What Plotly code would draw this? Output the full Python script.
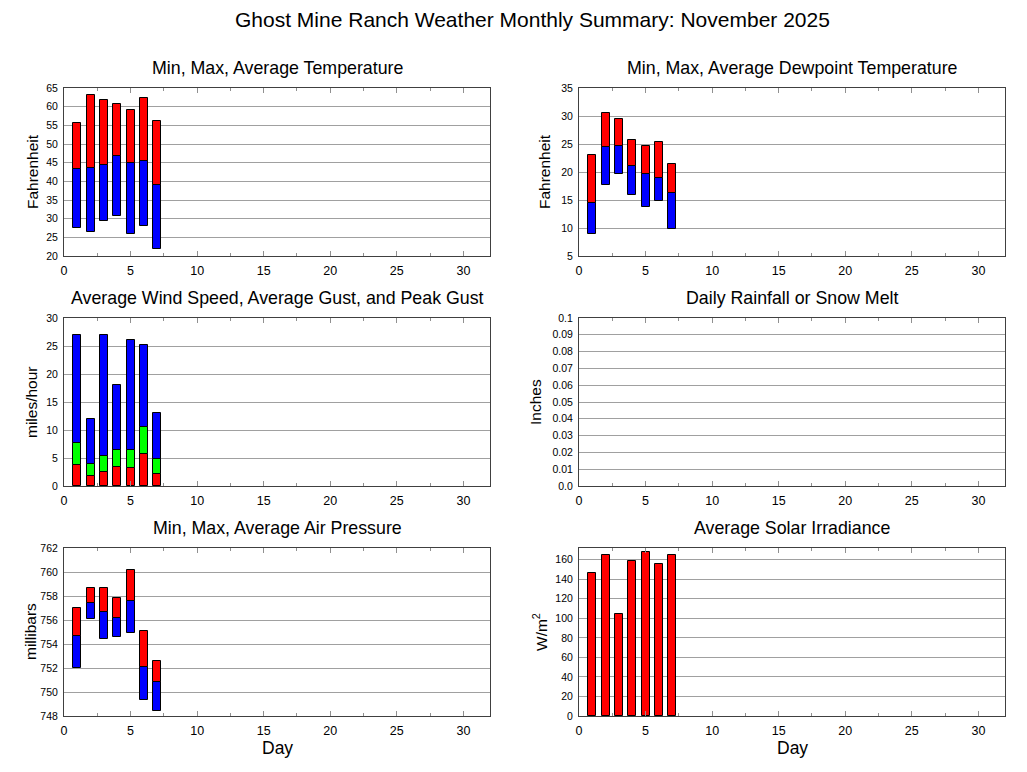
import plotly.graph_objects as go

days = [1, 2, 3, 4, 5, 6, 7]

temp_max = [55.5, 63.0, 61.7, 60.7, 59.0, 62.2, 56.2]
temp_avg = [43.2, 43.6, 44.3, 46.7, 45.0, 45.4, 39.1]
temp_min = [27.4, 26.5, 29.3, 30.7, 25.9, 28.0, 21.8]

dew_max = [23.0, 30.5, 29.4, 25.8, 24.6, 25.3, 21.4]
dew_avg = [14.4, 24.5, 24.7, 21.1, 19.6, 19.0, 16.2]
dew_min = [8.9, 17.7, 19.6, 15.9, 13.8, 14.8, 9.8]

wind_avg = [3.7, 1.7, 2.5, 3.4, 3.2, 5.7, 2.1]
gust_avg = [7.7, 4.0, 5.4, 6.5, 6.4, 10.6, 4.9]
gust_peak = [27.0, 12.0, 27.0, 18.0, 26.0, 25.1, 13.0]

rain = [0, 0, 0, 0, 0, 0, 0]

pres_max = [757.0, 758.7, 758.7, 757.8, 760.2, 755.1, 752.6]
pres_avg = [754.7, 757.4, 756.7, 756.2, 757.6, 752.1, 750.8]
pres_min = [752.0, 756.1, 754.4, 754.6, 754.9, 749.3, 748.4]

solar = [146.7, 164.4, 104.1, 159.0, 167.7, 155.9, 165.1]

x_ticks = [0, 5, 10, 15, 20, 25, 30]
rain_ticks = [0, 0.01, 0.02, 0.03, 0.04, 0.05, 0.06, 0.07, 0.08, 0.09, 0.1]
rain_labels = ["0.0", "0.01", "0.02", "0.03", "0.04", "0.05", "0.06", "0.07", "0.08", "0.09", "0.1"]

titles = ["Min, Max, Average Temperature", "Min, Max, Average Dewpoint Temperature",
          "Average Wind Speed, Average Gust, and Peak Gust", "Daily Rainfall or Snow Melt",
          "Min, Max, Average Air Pressure", "Average Solar Irradiance"]
ytitles = ["Fahrenheit", "Fahrenheit", "miles/hour", "Inches", "millibars", "W/m<sup>2</sup>"]

# page has an 8px body margin: size figure to fit and shift layout coordinates
OFF = 8
W, H = 1027 - 2 * OFF, 772 - 2 * OFF
RED, BLUE, GREEN = "#ff0000", "#0000ff", "#00ff00"
BW = 0.6
FONT = "Liberation Sans, Arial, sans-serif"


def px(x):
    return (x - OFF) / W


def py(y):
    return 1 - (y - OFF) / H


# panel pixel boxes in screen coordinates: (x0, x1, y0, y1)
boxes = [(64, 490, 88, 256), (579, 1005, 88, 256),
         (64, 490, 318, 486), (579, 1005, 318, 486),
         (64, 490, 548, 716), (579, 1005, 548, 716)]

fig = go.Figure()


def seg(i, lo, hi, color):
    ax = "" if i == 0 else str(i + 1)
    vals = [h - l for h, l in zip(hi, lo)]
    lw = 1 if any(v > 0 for v in vals) else 0
    fig.add_trace(go.Bar(
        x=days, y=vals, base=lo,
        width=BW, marker=dict(color=color, line=dict(color="black", width=lw)),
        xaxis="x" + ax, yaxis="y" + ax, showlegend=False))


seg(0, temp_min, temp_avg, BLUE)
seg(0, temp_avg, temp_max, RED)
seg(1, dew_min, dew_avg, BLUE)
seg(1, dew_avg, dew_max, RED)
seg(2, [0] * 7, wind_avg, RED)
seg(2, wind_avg, gust_avg, GREEN)
seg(2, gust_avg, gust_peak, BLUE)
seg(3, [0] * 7, rain, BLUE)
seg(4, pres_min, pres_avg, BLUE)
seg(4, pres_avg, pres_max, RED)
seg(5, [0] * 7, solar, RED)

yranges = [[20, 65], [5, 35], [0, 30], [0, 0.1], [748, 762], [0, 172]]
ydticks = [5, 5, 5, None, 2, 20]

layout = dict(width=W, height=H, autosize=False,
              margin=dict(l=0, r=0, t=0, b=0, autoexpand=False),
              paper_bgcolor="white", plot_bgcolor="white",
              barmode="overlay", bargap=0,
              font=dict(family=FONT, size=12, color="black"))

annotations = [dict(text="Ghost Mine Ranch Weather Monthly Summary: November 2025",
                    x=px(532), y=py(20), xref="paper", yref="paper",
                    showarrow=False, font=dict(size=21), xanchor="center", yanchor="middle")]

for i, (x0, x1, y0, y1) in enumerate(boxes):
    ax = "" if i == 0 else str(i + 1)
    xa = dict(domain=[px(x0), px(x1)], range=[0, 32], anchor="y" + ax, automargin=False,
              tickmode="array", tickvals=x_ticks, ticks="inside", ticklen=5,
              tickcolor="#909090", showgrid=False, zeroline=False,
              showline=True, linecolor="#404040", linewidth=1, mirror="ticks",
              tickfont=dict(size=12.5), ticklabelstandoff=3,
              minor=dict(tickvals=[2.5 + 5 * k for k in range(7)], ticks="inside",
                         ticklen=3, tickcolor="#909090", showgrid=False))
    ya = dict(domain=[py(y1), py(y0)], range=yranges[i], anchor="x" + ax,
              automargin=False,
              showgrid=True, gridcolor="#a0a0a0", gridwidth=1, zeroline=False,
              showline=True, linecolor="#404040", linewidth=1, mirror=True,
              ticks="", tickfont=dict(size=10.5), ticklabelstandoff=3)
    if ydticks[i] is None:
        ya.update(tickmode="array", tickvals=rain_ticks, ticktext=rain_labels)
    else:
        ya.update(tickmode="linear", tick0=0, dtick=ydticks[i])
    layout["xaxis" + ax] = xa
    layout["yaxis" + ax] = ya

    cx = (x0 + x1) / 2
    annotations.append(dict(text=titles[i], x=px(cx), y=py(y0 - 20),
                            xref="paper", yref="paper", showarrow=False,
                            font=dict(size=17.8), xanchor="center", yanchor="middle"))
    ytx = {0: 32, 1: 544, 2: 31, 3: 535, 4: 30, 5: 540}[i]
    annotations.append(dict(text=ytitles[i], x=px(ytx), y=py((y0 + y1) / 2),
                            xref="paper", yref="paper", showarrow=False, textangle=-90,
                            font=dict(size=15.5), xanchor="center", yanchor="middle"))

for cx in (277, 792):
    annotations.append(dict(text="Day", x=px(cx), y=py(748), xref="paper", yref="paper",
                            showarrow=False, font=dict(size=17.5),
                            xanchor="center", yanchor="middle"))

layout["annotations"] = annotations
fig.update_layout(**layout)
fig.write_html("out.html")
